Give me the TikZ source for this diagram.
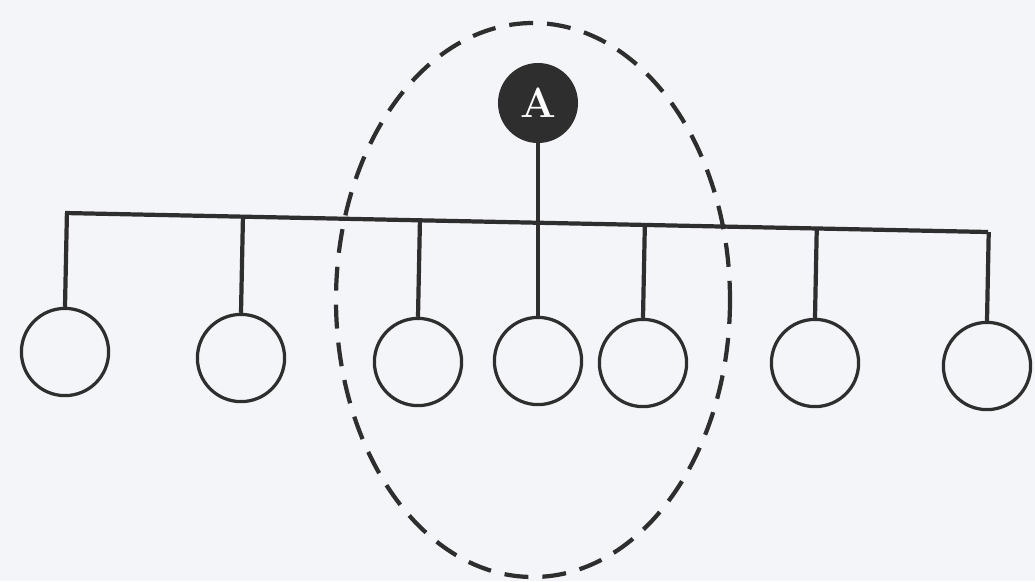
\documentclass[tikz,border=0pt]{standalone}
\usepackage{xcolor}
\usepackage{tikz}
\usetikzlibrary{positioning,calc}

\definecolor{paper}{HTML}{F4F5F9}
\definecolor{ink}{HTML}{2E2E2E}

\begin{document}
\begin{tikzpicture}[
    x=0.025cm, y=-0.025cm,
    hub/.style={circle, fill=ink, text=white, inner sep=0pt, minimum size=2.0cm, font=\fontsize{30}{32}\selectfont\bfseries},
    station/.style={circle, draw=ink, line width=2.3pt, fill=none, inner sep=0pt, minimum size=2.18cm},
    wire/.style={draw=ink, line width=3pt},
    group/.style={draw=ink, dashed, line width=3pt, dash pattern=on 17pt off 10pt}
]

% Page
\fill[paper] (0,0) rectangle (1035,581);
\useasboundingbox (0,0) rectangle (1035,581);

% Nodes
\node[hub] (a) at (538,103) {A};
\node[station] (st1) at (65,352) {};
\node[station] (st2) at (241,358) {};
\node[station] (st3) at (418,362) {};
\node[station] (st4) at (538,361) {};
\node[station] (st5) at (643,363) {};
\node[station] (st6) at (815,363) {};
\node[station] (st7) at (987,366) {};

% Bus
\coordinate (busL) at (65,213);
\coordinate (busR) at (988,232);
\draw[wire] (busL) -- (busR);

% Paths
\foreach \i in {1,2,3,5,6,7}
    \draw[wire] (st\i.north) -- ($(busL)!(st\i.north)!(busR)$);
\draw[wire] (a.south) -- (st4.north);

% Group boundary
\draw[group] (533,300) ellipse [x radius=197, y radius=277];

\end{tikzpicture}
\end{document}
